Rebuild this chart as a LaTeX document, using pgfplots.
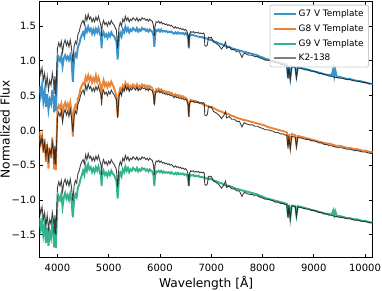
\documentclass[border=0pt]{standalone}
\usepackage{pgfplots}
\usepackage{pgfplotstable}
\pgfplotsset{compat=1.18}
\usepackage{fontspec}
\setmainfont{DejaVu Sans}
\definecolor{c7}{RGB}{58,147,201}
\definecolor{c8}{RGB}{232,133,58}
\definecolor{c9}{RGB}{52,179,143}
\definecolor{ck}{RGB}{30,30,30}
\pgfplotstableread{
wl k2 g7 g8 g9
3650 -0.08 -0.36 -0.02 -0.26
3675 -0.20 -0.50 -0.18 -0.42
3700 -0.10 -0.35 -0.08 -0.30
3725 -0.28 -0.58 -0.32 -0.50
3750 -0.18 -0.44 -0.12 -0.36
3775 -0.38 -0.66 -0.45 -0.62
3800 -0.22 -0.48 -0.20 -0.40
3825 -0.42 -0.70 -0.55 -0.66
3850 -0.28 -0.56 -0.25 -0.46
3875 -0.35 -0.62 -0.40 -0.55
3900 -0.18 -0.42 -0.10 -0.36
3925 -0.30 -0.60 -0.32 -0.52
3935 -0.48 -0.74 -0.56 -0.68
3950 -0.22 -0.50 -0.25 -0.42
3968 -0.50 -0.72 -0.57 -0.69
3985 -0.15 -0.40 -0.10 -0.34
4000 0.18 -0.02 0.30 -0.04
4025 0.26 0.05 0.36 0.05
4050 0.20 0.00 0.32 0.00
4075 0.28 0.07 0.38 0.08
4100 0.12 -0.08 0.20 -0.10
4125 0.25 0.04 0.36 0.04
4150 0.30 0.08 0.40 0.10
4175 0.22 0.02 0.33 0.02
4200 0.28 0.06 0.38 0.07
4225 0.20 0.01 0.30 0.00
4250 0.30 0.08 0.40 0.09
4275 0.18 0.00 0.28 -0.02
4300 -0.02 -0.30 -0.09 -0.25
4325 0.20 0.02 0.30 0.00
4350 0.28 0.10 0.36 0.08
4375 0.24 0.06 0.32 0.04
4400 0.38 0.20 0.46 0.18
4425 0.42 0.24 0.50 0.22
4450 0.50 0.32 0.60 0.30
4475 0.55 0.37 0.64 0.35
4500 0.58 0.41 0.68 0.42
4525 0.52 0.35 0.66 0.36
4550 0.65 0.47 0.77 0.49
4575 0.58 0.42 0.72 0.42
4600 0.67 0.49 0.79 0.51
4625 0.60 0.43 0.72 0.44
4650 0.63 0.46 0.77 0.47
4675 0.56 0.39 0.69 0.40
4700 0.61 0.45 0.75 0.45
4725 0.56 0.39 0.70 0.40
4750 0.63 0.46 0.79 0.47
4775 0.58 0.41 0.70 0.42
4800 0.64 0.47 0.76 0.48
4825 0.57 0.40 0.69 0.41
4850 0.50 0.34 0.62 0.34
4861 0.36 0.18 0.45 0.20
4875 0.52 0.36 0.64 0.36
4900 0.58 0.41 0.72 0.42
4925 0.52 0.35 0.64 0.36
4950 0.55 0.38 0.68 0.39
4975 0.50 0.33 0.62 0.34
5000 0.56 0.39 0.68 0.40
5025 0.52 0.35 0.64 0.36
5050 0.58 0.41 0.70 0.42
5075 0.54 0.37 0.66 0.38
5100 0.52 0.36 0.62 0.36
5125 0.48 0.32 0.56 0.32
5150 0.44 0.28 0.50 0.28
5175 0.18 0.02 0.20 0.02
5200 0.48 0.32 0.52 0.32
5225 0.55 0.40 0.60 0.39
5250 0.50 0.35 0.55 0.34
5275 0.60 0.45 0.64 0.44
5300 0.56 0.41 0.60 0.40
5325 0.64 0.49 0.68 0.48
5350 0.58 0.43 0.62 0.42
5375 0.62 0.47 0.66 0.46
5400 0.56 0.41 0.60 0.40
5425 0.60 0.45 0.64 0.44
5450 0.58 0.43 0.62 0.42
5475 0.62 0.47 0.66 0.46
5500 0.60 0.45 0.64 0.44
5525 0.58 0.43 0.62 0.42
5550 0.62 0.47 0.66 0.46
5575 0.57 0.42 0.60 0.41
5600 0.60 0.45 0.64 0.44
5625 0.58 0.43 0.62 0.42
5650 0.62 0.47 0.66 0.46
5675 0.60 0.45 0.64 0.44
5700 0.61 0.46 0.65 0.45
5725 0.58 0.43 0.62 0.42
5750 0.60 0.45 0.64 0.44
5775 0.57 0.42 0.61 0.41
5800 0.60 0.45 0.64 0.44
5825 0.58 0.43 0.62 0.42
5850 0.57 0.42 0.61 0.41
5875 0.50 0.36 0.54 0.35
5890 0.36 0.20 0.38 0.20
5905 0.50 0.36 0.54 0.35
5925 0.56 0.44 0.59 0.41
5950 0.55 0.43 0.58 0.40
5975 0.57 0.45 0.60 0.42
6000 0.54 0.42 0.57 0.40
6025 0.56 0.45 0.59 0.42
6050 0.53 0.42 0.56 0.39
6075 0.54 0.43 0.57 0.41
6100 0.52 0.42 0.55 0.39
6125 0.53 0.43 0.56 0.40
6150 0.51 0.41 0.54 0.39
6175 0.52 0.42 0.55 0.40
6200 0.50 0.41 0.53 0.38
6225 0.51 0.42 0.54 0.40
6250 0.49 0.40 0.52 0.38
6275 0.47 0.39 0.50 0.37
6300 0.49 0.41 0.52 0.39
6325 0.47 0.39 0.50 0.37
6350 0.48 0.41 0.51 0.39
6375 0.46 0.39 0.49 0.37
6400 0.47 0.40 0.50 0.38
6425 0.45 0.39 0.48 0.37
6450 0.46 0.40 0.49 0.38
6475 0.44 0.38 0.47 0.36
6500 0.45 0.40 0.47 0.37
6525 0.43 0.38 0.45 0.36
6550 0.36 0.32 0.38 0.30
6563 0.20 0.18 0.19 0.20
6575 0.38 0.35 0.40 0.33
6600 0.42 0.38 0.44 0.36
6625 0.41 0.37 0.43 0.35
6650 0.42 0.37 0.43 0.36
6675 0.40 0.36 0.42 0.34
6700 0.41 0.36 0.42 0.35
6725 0.40 0.35 0.41 0.34
6750 0.41 0.35 0.40 0.35
6775 0.39 0.34 0.39 0.33
6800 0.40 0.34 0.39 0.33
6825 0.39 0.34 0.38 0.33
6850 0.40 0.33 0.37 0.32
6865 0.38 0.33 0.37 0.32
6875 0.22 0.33 0.36 0.32
6900 0.21 0.32 0.36 0.31
6925 0.23 0.32 0.35 0.31
6945 0.34 0.31 0.35 0.30
6975 0.33 0.30 0.34 0.30
7000 0.34 0.30 0.34 0.30
7025 0.30 0.29 0.33 0.29
7050 0.27 0.28 0.32 0.28
7100 0.25 0.27 0.30 0.27
7150 0.22 0.25 0.28 0.25
7200 0.17 0.24 0.27 0.24
7250 0.22 0.22 0.25 0.22
7280 0.27 0.21 0.25 0.21
7300 0.18 0.21 0.24 0.21
7350 0.20 0.20 0.23 0.20
7400 0.16 0.18 0.21 0.19
7450 0.16 0.17 0.20 0.17
7500 0.13 0.16 0.18 0.16
7550 0.13 0.15 0.17 0.15
7600 0.05 0.14 0.16 0.14
7625 0.09 0.13 0.15 0.13
7650 0.11 0.13 0.15 0.13
7700 0.09 0.12 0.14 0.12
7750 0.08 0.11 0.13 0.11
7800 0.08 0.10 0.12 0.10
7850 0.06 0.09 0.11 0.09
7900 0.06 0.08 0.10 0.08
7950 0.04 0.06 0.09 0.06
8000 0.03 0.05 0.08 0.05
8050 0.01 0.03 0.07 0.03
8100 0.01 0.02 0.05 0.02
8150 0.00 0.01 0.04 0.01
8200 -0.01 0.00 0.03 0.00
8250 -0.03 -0.01 0.02 -0.01
8300 -0.03 -0.02 0.01 -0.02
8350 -0.05 -0.03 0.00 -0.03
8400 -0.05 -0.04 -0.01 -0.04
8450 -0.07 -0.05 -0.02 -0.05
8475 -0.07 -0.06 -0.03 -0.06
8498 -0.26 -0.24 -0.22 -0.24
8515 -0.08 -0.07 -0.05 -0.07
8542 -0.27 -0.25 -0.23 -0.26
8570 -0.09 -0.08 -0.05 -0.08
8600 -0.09 -0.08 -0.06 -0.08
8640 -0.10 -0.09 -0.07 -0.09
8662 -0.24 -0.22 -0.20 -0.22
8690 -0.10 -0.09 -0.08 -0.09
8750 -0.11 -0.10 -0.09 -0.10
8800 -0.12 -0.11 -0.10 -0.11
8850 -0.13 -0.12 -0.11 -0.12
8900 -0.13 -0.13 -0.12 -0.13
8950 -0.15 -0.14 -0.13 -0.14
9000 -0.15 -0.15 -0.14 -0.15
9050 -0.16 -0.16 -0.15 -0.16
9100 -0.18 -0.17 -0.16 -0.17
9150 -0.18 -0.18 -0.17 -0.18
9200 -0.20 -0.19 -0.18 -0.19
9250 -0.20 -0.20 -0.19 -0.20
9300 -0.22 -0.20 -0.19 -0.20
9350 -0.22 -0.21 -0.20 -0.21
9380 -0.23 -0.12 -0.21 -0.15
9400 -0.23 -0.22 -0.21 -0.22
9420 -0.24 -0.13 -0.22 -0.16
9450 -0.24 -0.23 -0.22 -0.23
9500 -0.25 -0.23 -0.22 -0.23
9550 -0.25 -0.24 -0.23 -0.24
9600 -0.26 -0.25 -0.24 -0.25
9650 -0.27 -0.26 -0.25 -0.26
9700 -0.27 -0.26 -0.25 -0.26
9750 -0.28 -0.27 -0.26 -0.27
9800 -0.29 -0.28 -0.27 -0.28
9850 -0.29 -0.29 -0.27 -0.28
9900 -0.30 -0.29 -0.28 -0.29
9950 -0.31 -0.30 -0.29 -0.30
10000 -0.31 -0.31 -0.29 -0.30
10050 -0.32 -0.32 -0.30 -0.31
10100 -0.33 -0.33 -0.31 -0.32
10150 -0.33 -0.33 -0.31 -0.32
}\spec
\begin{document}
\begin{tikzpicture}
\begin{axis}[
  name=ax, at={(0,0)}, anchor=south west,
  scale only axis, width=333.2pt, height=256.7pt,
  xmin=3650, xmax=10150, ymin=-1.83, ymax=1.86,
  scaled x ticks=false, scaled y ticks=false,
  xtick={4000,5000,6000,7000,8000,9000,10000},
  xticklabels={4000,5000,6000,7000,8000,9000,10000},
  ytick={-1.5,-1,-0.5,0,0.5,1,1.5},
  yticklabels={−1.5,−1.0,−0.5,0.0,0.5,1.0,1.5},
  tick align=inside, xtick pos=both, ytick pos=both,
  major tick length=3.5pt, minor tick num=0,
  every tick/.style={black, line width=0.8pt},
  axis line style={black, line width=0.8pt},
  tick label style={font=\fontsize{10}{12}\selectfont},
  xticklabel style={yshift=-2.5pt},
  every axis x label/.style={at={(axis description cs:0.5,-0.0986)}, anchor=center, font=\fontsize{12.2}{14}\selectfont},
  every axis y label/.style={at={(axis description cs:-0.103,0.5)}, anchor=center, rotate=90, font=\fontsize{12.2}{14}\selectfont},
  xlabel={Wavelength [Å]}, ylabel={Normalized Flux},
  legend style={at={(rel axis cs:1,1)}, anchor=north east, xshift=-3.7pt, yshift=-3.7pt,
    draw={rgb,255:red,204;green,204;blue,204}, line width=0.8pt, rounded corners=2pt,
    fill=white, fill opacity=0.8, text opacity=1, draw opacity=1,
    font=\fontsize{8.9}{10.5}\selectfont, inner xsep=3pt, inner ysep=2.6pt, row sep=2.6pt},
  legend cell align=left,
  legend image code/.code={\draw[#1] (0pt,0pt) -- (21.7pt,0pt);},
]
\addplot[c7, line width=1.9pt, forget plot] table[x=wl, y expr=\thisrow{g7}+1] {\spec};
\addplot[ck, opacity=0.85, line width=0.9pt, forget plot] table[x=wl, y expr=\thisrow{k2}+1] {\spec};
\addplot[c8, line width=1.9pt, forget plot] table[x=wl, y=g8] {\spec};
\addplot[ck, opacity=0.85, line width=0.9pt, forget plot] table[x=wl, y=k2] {\spec};
\addplot[c9, line width=1.9pt, forget plot] table[x=wl, y expr=\thisrow{g9}-1] {\spec};
\addplot[ck, opacity=0.85, line width=0.9pt, forget plot] table[x=wl, y expr=\thisrow{k2}-1] {\spec};
\addlegendimage{c7, line width=2pt}
\addlegendentry{G7 V Template}
\addlegendimage{c8, line width=2pt}
\addlegendentry{G8 V Template}
\addlegendimage{c9, line width=2pt}
\addlegendentry{G9 V Template}
\addlegendimage{gray, line width=1.8pt}
\addlegendentry{K2-138}
\end{axis}
\pgfresetboundingbox
\path[use as bounding box] (-39.5pt,-32.3pt) rectangle (342.5pt,257.7pt);
\end{tikzpicture}
\end{document}
